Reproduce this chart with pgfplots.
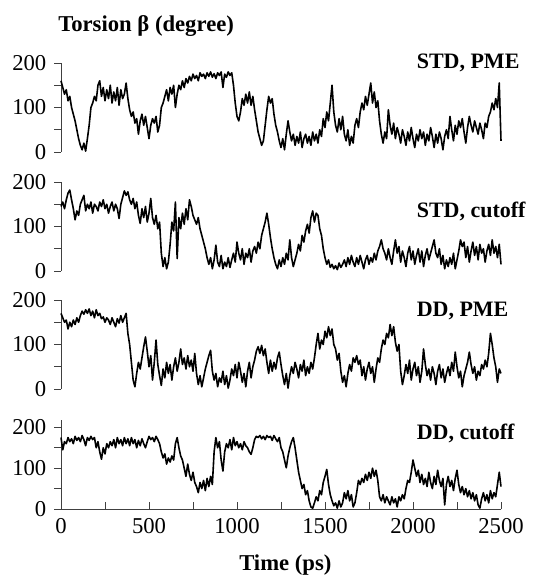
\documentclass[border=0pt]{standalone}
\usepackage{fontspec}
\setmainfont{Liberation Serif}
\usepackage{pgfplots}
\pgfplotsset{compat=1.18}
\pgfplotsset{
  panel/.style={
    scale only axis, width=330pt, height=66.75pt,
    anchor=south west, xmin=0, xmax=2500, ymin=0, ymax=200,
    axis y line*=left, axis x line*=bottom,
    axis line style={black!75, line width=0.6pt},
    ytick={0,50,100,150,200}, yticklabels={0,,100,,200},
    tick align=outside, major tick length=5pt,
    tick style={black!75, line width=0.6pt},
    /pgf/number format/assume math mode=true,
    tick label style={font=\fontsize{17}{18}\selectfont},
    yticklabel style={xshift=-2.5pt},
    clip=false,
  },
  toppanel/.style={panel, hide x axis},
}
\tikzset{
  trace/.style={black, line width=1.2pt, line join=round},
  lab/.style={anchor=west, inner sep=0pt, font=\bfseries\fontsize{16.5}{18}\selectfont},
}
\begin{document}
\begin{tikzpicture}
\useasboundingbox (0,0) rectangle (405.75pt,-434.25pt);
\node[anchor=base west, inner sep=0pt, font=\bfseries\fontsize{17}{19}\selectfont] at (43.5pt,-23.5pt) {Torsion β (degree)};
% Panel 1
\begin{axis}[toppanel, at={(45.75pt,-114pt)}]
\addplot[trace] coordinates {
(0,160)(10,145)(20,130)(30,140)(40,115)(50,125)(60,100)(70,85)(80,70)(90,50)(100,30)(110,15)(120,5)(130,20)(140,2)(150,30)(160,60)(170,100)(180,110)(190,125)(200,115)(210,150)(220,160)(230,125)(240,145)(250,115)(260,140)(270,120)(280,150)(290,110)(300,135)(310,115)(320,145)(330,105)(340,140)(350,120)(360,130)(370,155)(380,120)(390,95)(400,80)(410,90)(420,65)(430,75)(440,40)(450,70)(460,85)(470,60)(480,80)(490,55)(500,30)(510,60)(520,75)(530,65)(540,80)(550,45)(560,60)(570,100)(580,110)(590,125)(600,140)(610,115)(620,145)(630,130)(640,150)(650,100)(660,130)(670,150)(680,140)(690,160)(700,145)(710,165)(720,155)(730,170)(740,160)(750,175)(760,165)(770,172)(780,160)(790,178)(800,170)(810,175)(820,165)(830,178)(840,170)(850,180)(860,168)(870,176)(880,165)(890,178)(900,172)(910,180)(920,145)(930,175)(940,168)(950,180)(960,172)(970,178)(980,150)(990,110)(1000,80)(1010,70)(1020,90)(1030,120)(1040,105)(1050,130)(1060,110)(1070,135)(1080,105)(1090,125)(1100,95)(1110,70)(1120,45)(1130,30)(1140,15)(1150,25)(1160,60)(1170,95)(1180,125)(1190,110)(1200,120)(1210,85)(1220,60)(1230,45)(1240,25)(1250,10)(1260,30)(1270,5)(1280,40)(1290,70)(1300,45)(1310,25)(1320,40)(1330,15)(1340,35)(1350,20)(1360,45)(1370,10)(1380,30)(1390,40)(1400,20)(1410,35)(1420,15)(1430,45)(1440,25)(1450,40)(1460,20)(1470,50)(1480,35)(1490,75)(1500,55)(1510,90)(1520,70)(1530,110)(1540,150)(1550,90)(1560,60)(1570,45)(1580,75)(1590,50)(1600,80)(1610,40)(1620,25)(1630,50)(1640,15)(1650,35)(1660,20)(1670,60)(1680,75)(1690,55)(1700,90)(1710,110)(1720,95)(1730,125)(1740,105)(1750,130)(1760,155)(1770,110)(1780,135)(1790,100)(1800,115)(1810,70)(1820,40)(1830,20)(1840,45)(1850,30)(1860,95)(1870,60)(1880,40)(1890,65)(1900,30)(1910,55)(1920,40)(1930,20)(1940,50)(1950,35)(1960,15)(1970,45)(1980,25)(1990,55)(2000,30)(2010,10)(2020,40)(2030,25)(2040,50)(2050,30)(2060,45)(2070,15)(2080,40)(2090,25)(2100,55)(2110,35)(2120,10)(2130,40)(2140,20)(2150,45)(2160,30)(2170,5)(2180,35)(2190,50)(2200,30)(2210,80)(2220,50)(2230,25)(2240,60)(2250,40)(2260,70)(2270,55)(2280,75)(2290,45)(2300,20)(2310,55)(2320,80)(2330,60)(2340,45)(2350,70)(2360,55)(2370,40)(2380,65)(2390,50)(2400,30)(2410,65)(2420,55)(2430,80)(2440,90)(2450,110)(2460,95)(2470,120)(2480,100)(2490,155)(2500,25)
};
\node[lab] at (axis cs:2020,200) {STD, PME};
\end{axis}
% Panel 2
\begin{axis}[toppanel, at={(45.75pt,-203.25pt)}]
\addplot[trace] coordinates {
(0,145)(10,155)(20,140)(30,160)(40,175)(50,182)(60,160)(70,140)(80,115)(90,135)(100,125)(110,150)(120,160)(130,170)(140,135)(150,150)(160,140)(170,155)(180,130)(190,150)(200,145)(210,135)(220,155)(230,145)(240,160)(250,140)(260,150)(270,130)(280,145)(290,155)(300,135)(310,150)(320,140)(330,118)(340,150)(350,165)(360,180)(370,170)(380,178)(390,160)(400,150)(410,163)(420,140)(430,155)(440,125)(450,107)(460,140)(470,120)(480,145)(490,110)(500,130)(510,163)(520,120)(530,105)(540,125)(550,95)(560,110)(570,40)(580,10)(590,30)(600,5)(610,20)(620,60)(630,110)(640,90)(650,155)(660,28)(670,120)(680,95)(690,130)(700,105)(710,140)(720,115)(730,160)(740,145)(750,125)(760,115)(770,105)(780,120)(790,95)(800,80)(810,65)(820,50)(830,30)(840,15)(850,30)(860,5)(870,25)(880,58)(890,20)(900,10)(910,35)(920,5)(930,20)(940,10)(950,30)(960,8)(970,25)(980,40)(990,20)(1000,65)(1010,40)(1020,25)(1030,50)(1040,15)(1050,40)(1060,30)(1070,50)(1080,20)(1090,45)(1100,55)(1110,40)(1120,65)(1130,50)(1140,80)(1150,95)(1160,110)(1170,130)(1180,105)(1190,75)(1200,50)(1210,30)(1220,15)(1230,5)(1240,25)(1250,10)(1260,30)(1270,15)(1280,40)(1290,25)(1300,70)(1310,30)(1320,10)(1330,25)(1340,40)(1350,60)(1360,45)(1370,80)(1380,65)(1390,90)(1400,105)(1410,85)(1420,120)(1430,135)(1440,110)(1450,130)(1460,125)(1470,95)(1480,80)(1490,50)(1500,30)(1510,15)(1520,25)(1530,8)(1540,15)(1550,5)(1560,12)(1570,3)(1580,18)(1590,8)(1600,15)(1610,25)(1620,10)(1630,30)(1640,15)(1650,35)(1660,20)(1670,10)(1680,30)(1690,15)(1700,35)(1710,20)(1720,5)(1730,25)(1740,35)(1750,15)(1760,30)(1770,20)(1780,40)(1790,25)(1800,45)(1810,55)(1820,70)(1830,50)(1840,40)(1850,25)(1860,50)(1870,30)(1880,15)(1890,45)(1900,70)(1910,40)(1920,55)(1930,20)(1940,45)(1950,30)(1960,10)(1970,40)(1980,55)(1990,25)(2000,45)(2010,15)(2020,35)(2030,50)(2040,20)(2050,45)(2060,10)(2070,35)(2080,50)(2090,25)(2100,40)(2110,55)(2120,70)(2130,40)(2140,30)(2150,50)(2160,15)(2170,35)(2180,5)(2190,25)(2200,10)(2210,30)(2220,15)(2230,40)(2240,5)(2250,25)(2260,45)(2270,70)(2280,55)(2290,65)(2300,30)(2310,55)(2320,20)(2330,45)(2340,65)(2350,35)(2360,55)(2370,25)(2380,60)(2390,40)(2400,50)(2410,20)(2420,45)(2430,60)(2440,35)(2450,70)(2460,40)(2470,55)(2480,30)(2490,60)(2500,15)
};
\node[lab] at (axis cs:2020,133) {STD, cutoff};
\end{axis}
% Panel 3
\begin{axis}[toppanel, at={(45.75pt,-291.75pt)}]
\addplot[trace] coordinates {
(0,170)(10,160)(20,150)(30,155)(40,135)(50,150)(60,140)(70,155)(80,145)(90,160)(100,150)(110,165)(120,175)(130,168)(140,178)(150,170)(160,180)(170,165)(180,175)(190,160)(200,178)(210,165)(220,170)(230,158)(240,162)(250,150)(260,160)(270,155)(280,145)(290,160)(300,150)(310,140)(320,158)(330,148)(340,165)(350,150)(360,160)(370,170)(380,125)(390,100)(400,60)(410,20)(420,5)(430,35)(440,60)(450,45)(460,70)(470,95)(480,117)(490,85)(500,50)(510,75)(520,20)(530,60)(540,110)(550,55)(560,30)(570,8)(580,45)(590,25)(600,60)(610,35)(620,55)(630,20)(640,50)(650,70)(660,40)(670,60)(680,90)(690,55)(700,70)(710,45)(720,75)(730,50)(740,65)(750,40)(760,80)(770,35)(780,10)(790,30)(800,5)(810,25)(820,45)(830,60)(840,75)(850,87)(860,40)(870,20)(880,35)(890,5)(900,25)(910,15)(920,40)(930,10)(940,30)(950,2)(960,20)(970,45)(980,30)(990,55)(1000,25)(1010,60)(1020,40)(1030,15)(1040,35)(1050,5)(1060,40)(1070,60)(1080,25)(1090,50)(1100,65)(1110,85)(1120,95)(1130,80)(1140,98)(1150,75)(1160,90)(1170,60)(1180,35)(1190,65)(1200,40)(1210,60)(1220,45)(1230,70)(1240,83)(1250,55)(1260,30)(1270,10)(1280,35)(1290,2)(1300,30)(1310,50)(1320,35)(1330,60)(1340,45)(1350,25)(1360,55)(1370,40)(1380,65)(1390,30)(1400,50)(1410,35)(1420,60)(1430,45)(1440,70)(1450,100)(1460,125)(1470,90)(1480,110)(1490,100)(1500,130)(1510,115)(1520,140)(1530,120)(1540,135)(1550,100)(1560,90)(1570,65)(1580,80)(1590,40)(1600,15)(1610,30)(1620,5)(1630,35)(1640,55)(1650,40)(1660,70)(1670,60)(1680,75)(1690,55)(1700,65)(1710,30)(1720,50)(1730,20)(1740,45)(1750,60)(1760,35)(1770,50)(1780,15)(1790,45)(1800,70)(1810,60)(1820,90)(1830,110)(1840,100)(1850,125)(1860,115)(1870,145)(1880,120)(1890,140)(1900,105)(1910,85)(1920,100)(1930,40)(1940,10)(1950,30)(1960,55)(1970,35)(1980,65)(1990,20)(2000,45)(2010,60)(2020,30)(2030,50)(2040,15)(2050,40)(2060,90)(2070,55)(2080,30)(2090,45)(2100,20)(2110,50)(2120,35)(2130,10)(2140,40)(2150,55)(2160,25)(2170,45)(2180,15)(2190,35)(2200,50)(2210,30)(2220,60)(2230,40)(2240,83)(2250,50)(2260,25)(2270,40)(2280,5)(2290,30)(2300,45)(2310,60)(2320,83)(2330,55)(2340,35)(2350,50)(2360,20)(2370,40)(2380,30)(2390,55)(2400,45)(2410,65)(2420,50)(2430,80)(2440,125)(2450,100)(2460,70)(2470,50)(2480,15)(2490,45)(2500,35)
};
\node[lab] at (axis cs:2020,175) {DD, PME};
\end{axis}
% Panel 4
\begin{axis}[panel, at={(45.75pt,-381.75pt)}, ymax=218,
  xtick={0,250,...,2500},
  xticklabels={0,,500,,1000,,1500,,2000,,2500},
  xtick style={yshift=5pt},
  xticklabel style={yshift=1.5pt},
]
\addplot[trace] coordinates {
(0,175)(10,145)(20,165)(30,160)(40,175)(50,165)(60,172)(70,160)(80,178)(90,168)(100,175)(110,165)(120,180)(130,170)(140,155)(150,175)(160,168)(170,178)(180,170)(190,175)(200,150)(210,165)(220,140)(230,122)(240,150)(250,135)(260,160)(270,150)(280,165)(290,155)(300,170)(310,150)(320,175)(330,160)(340,170)(350,155)(360,175)(370,160)(380,172)(390,155)(400,175)(410,160)(420,170)(430,150)(440,168)(450,155)(460,172)(470,160)(480,150)(490,165)(500,178)(510,170)(520,175)(530,165)(540,178)(550,170)(560,160)(570,140)(580,125)(590,135)(600,110)(610,125)(620,115)(630,130)(640,120)(650,160)(660,175)(670,150)(680,130)(690,120)(700,100)(710,80)(720,110)(730,85)(740,70)(750,90)(760,65)(770,55)(780,40)(790,65)(800,50)(810,70)(820,45)(830,75)(840,55)(850,80)(860,60)(870,140)(880,175)(890,150)(900,165)(910,120)(920,93)(930,140)(940,160)(950,150)(960,170)(970,145)(980,175)(990,155)(1000,165)(1010,150)(1020,160)(1030,145)(1040,165)(1050,155)(1060,150)(1070,140)(1080,134)(1090,150)(1100,170)(1110,178)(1120,175)(1130,180)(1140,172)(1150,178)(1160,170)(1170,180)(1180,175)(1190,178)(1200,168)(1210,180)(1220,172)(1230,165)(1240,175)(1250,150)(1260,140)(1270,120)(1280,101)(1290,130)(1300,150)(1310,165)(1320,175)(1330,150)(1340,120)(1350,90)(1360,70)(1370,50)(1380,60)(1390,35)(1400,45)(1410,20)(1420,5)(1430,2)(1440,15)(1450,30)(1460,20)(1470,45)(1480,35)(1490,65)(1500,80)(1510,97)(1520,60)(1530,35)(1540,20)(1550,8)(1560,15)(1570,2)(1580,20)(1590,5)(1600,15)(1610,40)(1620,25)(1630,45)(1640,20)(1650,35)(1660,5)(1670,15)(1680,40)(1690,70)(1700,60)(1710,75)(1720,65)(1730,85)(1740,70)(1750,90)(1760,75)(1770,100)(1780,80)(1790,95)(1800,70)(1810,30)(1820,20)(1830,35)(1840,15)(1850,30)(1860,20)(1870,10)(1880,30)(1890,15)(1900,25)(1910,5)(1920,30)(1930,20)(1940,35)(1950,25)(1960,50)(1970,70)(1980,65)(1990,90)(2000,120)(2010,100)(2020,80)(2030,95)(2040,65)(2050,85)(2060,60)(2070,75)(2080,55)(2090,90)(2100,65)(2110,50)(2120,80)(2130,60)(2140,95)(2150,70)(2160,55)(2170,75)(2180,10)(2190,60)(2200,80)(2210,55)(2220,70)(2230,45)(2240,75)(2250,95)(2260,60)(2270,40)(2280,55)(2290,35)(2300,50)(2310,30)(2320,45)(2330,25)(2340,40)(2350,20)(2360,35)(2370,10)(2380,2)(2390,25)(2400,40)(2410,20)(2420,35)(2430,15)(2440,45)(2450,25)(2460,40)(2470,30)(2480,60)(2490,90)(2500,55)
};
\node[lab] at (axis cs:2020,186) {DD, cutoff};
\end{axis}
\node[anchor=base, inner sep=0pt, font=\bfseries\fontsize{17}{19}\selectfont] at (214pt,-428pt) {Time (ps)};
\end{tikzpicture}
\end{document}
